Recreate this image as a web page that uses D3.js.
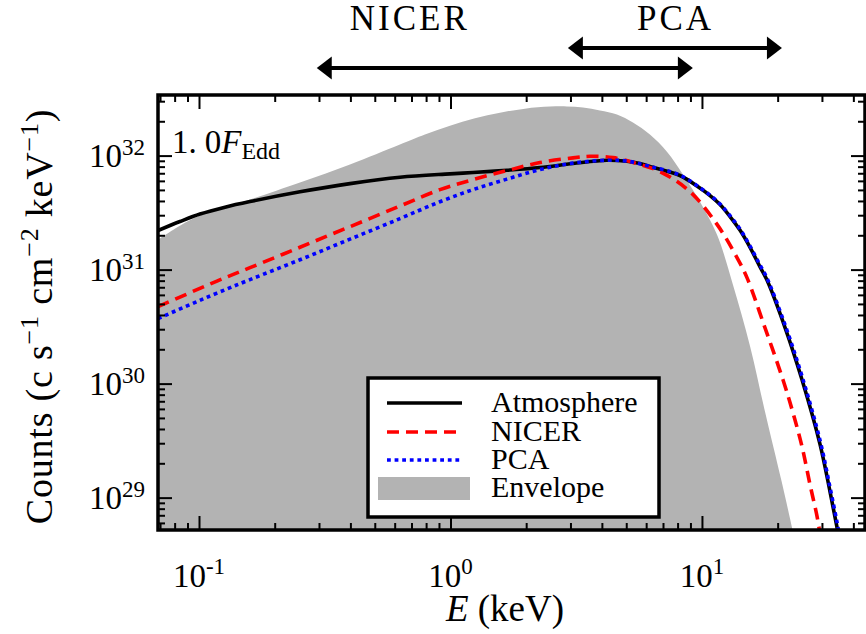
<!DOCTYPE html>
<html>
<head>
<meta charset="utf-8">
<script src="https://cdn.jsdelivr.net/npm/d3@7"></script>
<style>
  body { margin: 0; background: #fff; }
</style>
</head>
<body>
<svg id="chart" width="866" height="634" font-family="Liberation Serif"></svg>
<script>
// Model spectrum: photon energy (keV) and counts (c s^-1 cm^-2 keV^-1)
const atmosE = [0.0687, 0.0840, 0.1009, 0.1269, 0.1595, 0.2521, 0.3985, 0.6297, 0.9954, 1.229, 1.677, 2.27, 3.07, 4.19, 5.03, 5.67, 6.21, 8.17, 9.81, 10.77, 11.8, 12.93, 14.2, 15.55, 17.0, 18.1, 21.4, 25.0, 29.5, 32.3, 34.4, 35.7];
const atmosCounts = [2.20e31, 2.64e31, 3.07e31, 3.53e31, 3.95e31, 4.81e31, 5.68e31, 6.46e31, 6.91e31, 7.10e31, 7.43e31, 7.85e31, 8.51e31, 9.10e31, 8.91e31, 8.51e31, 8.01e31, 6.69e31, 5.19e31, 4.46e31, 3.72e31, 2.92e31, 2.20e31, 1.56e31, 1.06e31, 8.17e30, 3.10e30, 1.08e30, 2.92e29, 1.13e29, 5.57e28, 3.50e28];

const nicerE = [0.0687, 0.1179, 0.1595, 0.2521, 0.3985, 0.6297, 0.9084, 1.229, 1.677, 2.27, 3.07, 3.59, 4.43, 5.51, 6.81, 8.96, 11.5, 13.8, 15.1, 17.8, 21.0, 23.0, 25.0, 26.9, 28.7, 29.5];
const nicerCounts = [4.73e30, 7.93e30, 1.04e31, 1.57e31, 2.38e31, 3.61e31, 5.03e31, 6.16e31, 7.38e31, 8.69e31, 9.55e31, 9.86e31, 9.60e31, 8.51e31, 7.24e31, 4.83e31, 2.48e31, 1.27e31, 8.51e30, 3.10e30, 1.08e30, 5.57e29, 2.80e29, 1.30e29, 6.81e28, 4.73e28];

const pcaE = [0.0687, 0.0921, 0.1179, 0.1595, 0.2521, 0.3985, 0.6297, 0.9084, 1.229, 1.677, 2.27, 3.07, 4.19, 5.03, 6.21, 8.17, 9.81, 10.77, 11.8, 12.93, 14.2, 15.55, 17.0, 18.1, 21.4, 25.0, 29.5, 32.3, 34.4, 35.7];
const pcaCounts = [3.72e30, 4.93e30, 6.22e30, 8.17e30, 1.22e31, 1.85e31, 2.80e31, 3.94e31, 5.03e31, 6.22e31, 7.54e31, 8.59e31, 9.10e31, 8.95e31, 8.04e31, 6.74e31, 5.23e31, 4.50e31, 3.76e31, 2.97e31, 2.25e31, 1.60e31, 1.10e31, 8.51e30, 3.27e30, 1.16e30, 3.16e29, 1.23e29, 6.17e28, 3.89e28];

const envelopeE = [0.0687, 0.0840, 0.1009, 0.1269, 0.1595, 0.2521, 0.3985, 0.6297, 0.7916, 0.9954, 1.2516, 1.573, 1.978, 2.487, 2.906, 3.364, 3.930, 4.592, 5.316, 6.211, 7.257, 8.404, 9.818, 11.47, 13.28, 15.55, 17.7, 20.7, 23.0, 24.0];
const envelopeUpper = [1.83e31, 2.43e31, 2.98e31, 3.50e31, 4.11e31, 5.80e31, 8.34e31, 1.25e32, 1.53e32, 1.83e32, 2.13e32, 2.38e32, 2.58e32, 2.69e32, 2.70e32, 2.64e32, 2.48e32, 2.29e32, 1.95e32, 1.53e32, 1.08e32, 6.81e31, 3.94e31, 2.03e31, 7.38e30, 2.11e30, 6.03e29, 1.41e29, 5.01e28, 3.16e28];

// Axis settings
const energyDomain = [0.0687, 44.5];
const countsDomain = [5.2e28, 3.4e32];
const xTickValues = [0.1, 1, 10];
const xTickExponents = ["-1", "0", "1"];
const yTickValues = [1e29, 1e30, 1e31, 1e32];
const yTickExponents = ["29", "30", "31", "32"];

// Instrument bands shown above the plot (keV)
const bandNames = ["NICER", "PCA"];
const bandRanges = [[0.294, 9.2], [2.93, 20.8]];
const bandLabelAt = [0.68, 7.75];

const legendNames = ["Atmosphere", "NICER", "PCA", "Envelope"];

// ---------------------------------------------------------------
const FONT = "Liberation Serif";
const svg = d3.select("#chart");
const L = 158, R = 865, T = 95, B = 530;

const x = d3.scaleLog().domain(energyDomain).range([L, R]);
const y = d3.scaleLog().domain(countsDomain).range([B, T]);

svg.append("defs").append("clipPath").attr("id", "plotclip")
  .append("rect").attr("x", L).attr("y", T).attr("width", R - L).attr("height", B - T);

const plot = svg.append("g").attr("clip-path", "url(#plotclip)");

const zip = (a, b) => a.map((v, i) => [v, b[i]]);
const smooth = d3.curveCatmullRom.alpha(0.5);

// envelope
const area = d3.area()
  .x(d => x(d[0])).y0(B + 20).y1(d => y(d[1]))
  .curve(smooth);
plot.append("path").datum(zip(envelopeE, envelopeUpper))
  .attr("d", area).attr("fill", "#b3b3b3").attr("stroke", "none");

const line = d3.line().x(d => x(d[0])).y(d => y(d[1])).curve(smooth);

plot.append("path").datum(zip(atmosE, atmosCounts)).attr("d", line)
  .attr("fill", "none").attr("stroke", "#000").attr("stroke-width", 3.6);
plot.append("path").datum(zip(nicerE, nicerCounts)).attr("d", line)
  .attr("fill", "none").attr("stroke", "#ff0000").attr("stroke-width", 3.6)
  .attr("stroke-dasharray", "12,7");
plot.append("path").datum(zip(pcaE, pcaCounts)).attr("d", line)
  .attr("fill", "none").attr("stroke", "#0000ff").attr("stroke-width", 3.6)
  .attr("stroke-dasharray", "3.8,3.8");

// ---------------------------------------------------------------
// ticks on all four sides, pointing inward
const xMinor = x.ticks().filter(v => !xTickValues.some(m => Math.abs(m - v) / m < 1e-6));
const yMinor = y.ticks().filter(v => !yTickValues.some(m => Math.abs(m - v) / m < 1e-6));

function drawAxis(axisGen, tx, ty, values, size) {
  const g = svg.append("g").attr("transform", `translate(${tx},${ty})`)
    .call(axisGen.tickValues(values).tickSize(size).tickFormat(""));
  g.select(".domain").remove();
  g.selectAll(".tick text").remove();
  g.selectAll(".tick line").attr("stroke", "#000").attr("stroke-width", 2);
}
drawAxis(d3.axisBottom(x), 0, B, xTickValues, -14);
drawAxis(d3.axisBottom(x), 0, B, xMinor, -7);
drawAxis(d3.axisTop(x), 0, T, xTickValues, -14);
drawAxis(d3.axisTop(x), 0, T, xMinor, -7);
drawAxis(d3.axisLeft(y), L, 0, yTickValues, -14);
drawAxis(d3.axisLeft(y), L, 0, yMinor, -7);
drawAxis(d3.axisRight(y), R, 0, yTickValues, -14);
drawAxis(d3.axisRight(y), R, 0, yMinor, -7);

svg.append("rect").attr("x", L).attr("y", T).attr("width", R - L).attr("height", B - T)
  .attr("fill", "none").attr("stroke", "#000").attr("stroke-width", 3.5);

const labels = svg.append("g").attr("font-family", FONT);
const txt = (sel) => sel.append("text").attr("fill", "#000").attr("font-family", FONT);

// tick labels: 10^n
xTickValues.forEach((v, i) => {
  const t = txt(labels).attr("x", x(v)).attr("y", 587)
    .attr("text-anchor", "middle").attr("font-size", 33);
  t.append("tspan").text("10");
  t.append("tspan").attr("font-size", 23).attr("dy", -13).text(xTickExponents[i]);
});
yTickValues.forEach((v, i) => {
  const t = txt(labels).attr("x", 145).attr("y", y(v) + 11)
    .attr("text-anchor", "end").attr("font-size", 33);
  t.append("tspan").text("10");
  t.append("tspan").attr("font-size", 23).attr("dy", -12).text(yTickExponents[i]);
});

// axis titles
const xt = txt(labels).attr("x", 505).attr("y", 621)
  .attr("text-anchor", "middle").attr("font-size", 37);
xt.append("tspan").attr("font-style", "italic").text("E");
xt.append("tspan").text(" (keV)");

const yt = txt(labels)
  .attr("transform", `translate(52,${(T + B) / 2 + 4}) rotate(-90)`)
  .attr("text-anchor", "middle").attr("font-size", 38).attr("letter-spacing", 0.8);
const ylabelParts = [["Counts (c s", 0], ["\u22121", 1], [" cm", 0], ["\u22122", 1], [" keV", 0], ["\u22121", 1], [")", 0]];
let raised = false;
ylabelParts.forEach(([s, sup]) => {
  const ts = yt.append("tspan").text(s);
  if (sup && !raised) { ts.attr("dy", -14).attr("font-size", 26); raised = true; }
  else if (sup) { ts.attr("font-size", 26); }
  else if (raised) { ts.attr("dy", 14); raised = false; }
});

// flux annotation
const ann = txt(labels).attr("x", 172).attr("y", 153).attr("font-size", 33);
ann.append("tspan").text("1.");
ann.append("tspan").attr("dx", 8).text("0");
ann.append("tspan").attr("font-style", "italic").text("F");
ann.append("tspan").attr("font-size", 24).attr("dy", 6).text("Edd");

// ---------------------------------------------------------------
// instrument bands
const bandY = [68, 48];
bandRanges.forEach((r, i) => {
  const x0 = x(r[0]), x1 = x(r[1]), yy = bandY[i];
  const head = 15, half = 11.5;
  svg.append("line").attr("x1", x0 + head - 1).attr("x2", x1 - head + 1)
    .attr("y1", yy).attr("y2", yy).attr("stroke", "#000").attr("stroke-width", 4);
  svg.append("path").attr("d", `M${x0},${yy} L${x0 + head},${yy - half} L${x0 + head},${yy + half} Z`).attr("fill", "#000");
  svg.append("path").attr("d", `M${x1},${yy} L${x1 - head},${yy - half} L${x1 - head},${yy + half} Z`).attr("fill", "#000");
  txt(labels).attr("x", x(bandLabelAt[i]) + 1.5).attr("y", 30)
    .attr("text-anchor", "middle").attr("font-size", 35).attr("letter-spacing", 3)
    .text(bandNames[i]);
});

// ---------------------------------------------------------------
// legend
const lg = svg.append("g");
lg.append("rect").attr("x", 368).attr("y", 378).attr("width", 291).attr("height", 139)
  .attr("fill", "#fff").attr("stroke", "#000").attr("stroke-width", 3.5);
const rowBase = [412, 441, 469, 497];
const styles = [
  { stroke: "#000", dash: null },
  { stroke: "#ff0000", dash: "12,7" },
  { stroke: "#0000ff", dash: "3.8,3.8" }
];
legendNames.forEach((name, i) => {
  const yy = rowBase[i] - 9;
  if (i < 3) {
    const l = lg.append("line").attr("x1", 387).attr("x2", 462).attr("y1", yy).attr("y2", yy)
      .attr("stroke", styles[i].stroke).attr("stroke-width", 3.6);
    if (styles[i].dash) l.attr("stroke-dasharray", styles[i].dash);
  } else {
    lg.append("rect").attr("x", 378).attr("y", 477).attr("width", 92).attr("height", 23).attr("fill", "#b3b3b3");
  }
  txt(lg).attr("x", 491).attr("y", rowBase[i]).attr("font-size", 30).text(name);
});
</script>
</body>
</html>
